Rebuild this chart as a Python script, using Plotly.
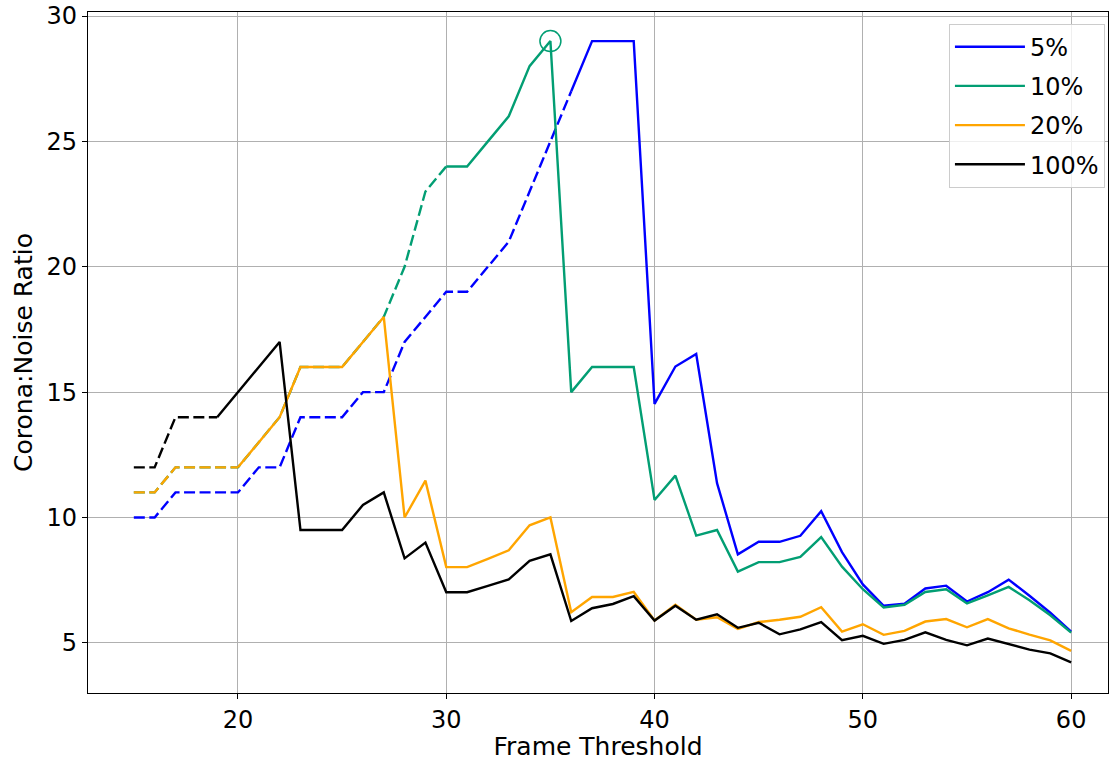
import plotly.graph_objects as go

frame_threshold = list(range(15, 61))

ratio_5 = [10, 10, 11, 11, 11, 11, 12, 12, 14, 14, 14, 15, 15, 17, 18, 19, 19, 20, 21, 23, 25, 27,
           29, 29, 29, 14.53, 16.02, 16.52, 11.37, 8.53, 9.03, 9.03, 9.27, 10.25, 8.62, 7.33,
           6.48, 6.56, 7.17, 7.28, 6.65, 7.02, 7.52, 6.88, 6.2, 5.45]
ratio_10 = [11, 11, 12, 12, 12, 12, 13, 14, 16, 16, 16, 17, 18, 20, 23, 24, 24, 25, 26, 28, 29, 15,
            16, 16, 16, 10.7, 11.67, 9.28, 9.5, 7.84, 8.22, 8.22, 8.43, 9.22, 8.04, 7.14,
            6.41, 6.52, 7.03, 7.14, 6.57, 6.89, 7.23, 6.7, 6.1, 5.41]
ratio_20 = [11, 11, 12, 12, 12, 12, 13, 14, 16, 16, 16, 17, 18, 10, 11.47, 8.02, 8.02, 8.35, 8.69,
            9.69, 10, 6.22, 6.83, 6.83, 7.03, 5.89, 6.52, 5.92, 6.02, 5.55, 5.83, 5.92, 6.04,
            6.42, 5.45, 5.74, 5.32, 5.48, 5.85, 5.95, 5.62, 5.95, 5.58, 5.33, 5.1, 4.68]
ratio_100 = [12, 12, 14, 14, 14, 15, 16, 17, 9.5, 9.5, 9.5, 10.5, 11, 8.37, 9, 7.02, 7.02, 7.27,
             7.53, 8.27, 8.53, 5.87, 6.38, 6.55, 6.86, 5.89, 6.48, 5.92, 6.14, 5.6, 5.8, 5.34,
             5.54, 5.83, 5.11, 5.28, 4.96, 5.12, 5.42, 5.12, 4.9, 5.17, 4.96, 4.73, 4.58, 4.22]

series_names = ["5%", "10%", "20%", "100%"]
series_values = [ratio_5, ratio_10, ratio_20, ratio_100]
# last frame threshold of the dashed (extrapolated) part of each series
dashed_until = [36, 30, 20, 19]
highlight_x = 35
highlight_y = 29

colors = ["#0000FF", "#029E73", "#FFA500", "#000000"]
LW = 2.4
DASH = "11px,4.5px"

fig = go.Figure()

for name, vals, cut, col in zip(series_names, series_values, dashed_until, colors):
    xd = [x for x in frame_threshold if x <= cut]
    yd = [v for x, v in zip(frame_threshold, vals) if x <= cut]
    xs = [x for x in frame_threshold if x >= cut]
    ys = [v for x, v in zip(frame_threshold, vals) if x >= cut]
    fig.add_trace(go.Scatter(x=xd, y=yd, mode="lines", line=dict(color=col, width=LW, dash=DASH),
                             showlegend=False, hoverinfo="skip"))
    fig.add_trace(go.Scatter(x=xs, y=ys, mode="lines", name=name, legendgroup=name,
                             line=dict(color=col, width=LW)))

fig.add_trace(go.Scatter(x=[highlight_x], y=[highlight_y], mode="markers", showlegend=False,
                         marker=dict(symbol="circle-open", size=21, color=colors[1],
                                     line=dict(width=1.5, color=colors[1]))))

axis_common = dict(
    showline=True, linecolor="black", linewidth=1.2, mirror=True,
    showgrid=True, gridcolor="#b0b0b0", gridwidth=1.1,
    ticks="outside", ticklen=5, tickwidth=1.1, tickcolor="black",
    zeroline=False, automargin=False,
    tickfont=dict(family="DejaVu Sans", size=24, color="black"),
)

fig.update_layout(
    width=1111, height=761,
    margin=dict(l=88, r=3, t=12, b=68),
    paper_bgcolor="white", plot_bgcolor="white",
    font=dict(family="DejaVu Sans", size=24, color="black"),
    xaxis=dict(range=[12.8, 61.77], tickvals=[20, 30, 40, 50, 60],
               title=dict(text="Frame Threshold", font=dict(size=25), standoff=6),
               **axis_common),
    yaxis=dict(range=[3.0, 30.16], tickvals=[5, 10, 15, 20, 25, 30],
               title=dict(text="Corona:Noise Ratio", font=dict(size=25), standoff=6),
               **axis_common),
    legend=dict(x=0.997, y=0.983, xanchor="right", yanchor="top",
                bgcolor="rgba(255,255,255,0.8)", bordercolor="#cccccc", borderwidth=1,
                font=dict(size=24), itemwidth=70, tracegroupgap=5, traceorder="grouped"),
    showlegend=True,
)

fig.write_html("out.html")
